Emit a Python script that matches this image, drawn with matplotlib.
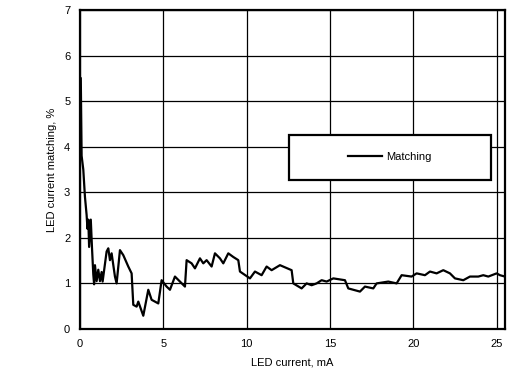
import matplotlib
matplotlib.use("Agg")
import matplotlib.pyplot as plt
from matplotlib.patches import Rectangle

plt.rcParams['font.family'] = ['Liberation Sans', 'DejaVu Sans']

# LED current (mA) and current matching (%)
current = [0.05, 0.1, 0.2, 0.3, 0.4, 0.45, 0.5, 0.55, 0.65, 0.72, 0.8, 0.85,
           0.9, 1.0, 1.1, 1.2, 1.3, 1.36, 1.6, 1.7, 1.8, 1.9, 2.1, 2.2, 2.4,
           2.6, 2.9, 3.1, 3.2, 3.4, 3.5, 3.8, 4.1, 4.3, 4.7, 4.9, 5.2, 5.4,
           5.7, 6.0, 6.3, 6.4, 6.7, 6.9, 7.2, 7.4, 7.6, 7.9, 8.1, 8.4, 8.6,
           8.9, 9.2, 9.5, 9.6, 10.2, 10.5, 10.9, 11.2, 11.5, 12.0, 12.7, 12.8,
           13.3, 13.6, 13.9, 14.2, 14.5, 14.8, 15.2, 15.9, 16.1, 16.8, 17.1,
           17.6, 17.8, 18.5, 19.0, 19.3, 19.9, 20.2, 20.7, 21.0, 21.4, 21.8,
           22.2, 22.5, 23.0, 23.4, 23.9, 24.2, 24.5, 25.0, 25.2, 25.5]
matching = [5.5, 3.8, 3.5, 2.9, 2.5, 2.2, 2.4, 1.8, 2.4, 1.8, 1.2, 0.98,
            1.4, 1.05, 1.3, 1.05, 1.25, 1.04, 1.70, 1.77, 1.51, 1.66, 1.15,
            1.0, 1.73, 1.62, 1.37, 1.22, 0.53, 0.49, 0.6, 0.29, 0.86, 0.64,
            0.56, 1.07, 0.93, 0.86, 1.15, 1.04, 0.93, 1.51, 1.44, 1.33, 1.55,
            1.44, 1.51, 1.37, 1.66, 1.55, 1.44, 1.66, 1.58, 1.51, 1.26, 1.11,
            1.26, 1.18, 1.37, 1.29, 1.40, 1.29, 1.0, 0.89, 1.0, 0.96, 1.0,
            1.07, 1.04, 1.11, 1.07, 0.89, 0.82, 0.93, 0.89, 1.0, 1.04, 1.0,
            1.18, 1.15, 1.22, 1.18, 1.26, 1.22, 1.29, 1.22, 1.11, 1.07, 1.15,
            1.15, 1.18, 1.15, 1.22, 1.18, 1.15]

xticks = [0, 5, 10, 15, 20, 25]
yticks = [0, 1, 2, 3, 4, 5, 6, 7]

fig = plt.figure(figsize=(5.26, 3.87), dpi=100)
ax = fig.add_axes([0.152, 0.150, 0.808, 0.824])

ax.plot(current, matching, color='black', lw=1.6, label='Matching', zorder=2)

ax.set_xlim(0, 25.5)
ax.set_ylim(0, 7)
ax.set_xticks(xticks)
ax.set_yticks(yticks)
ax.grid(True, color='black', lw=0.9)
ax.set_axisbelow(True)
ax.tick_params(length=0, labelsize=8, pad=7)
for s in ax.spines.values():
    s.set_linewidth(1.6)

ax.set_xlabel('LED current, mA', fontsize=8, labelpad=6)
ax.set_ylabel('LED current matching, %', fontsize=8, labelpad=5)

# legend box
ax.add_patch(Rectangle((0.492, 0.467), 0.475, 0.141, transform=ax.transAxes,
                       facecolor='white', edgecolor='black', lw=1.6, zorder=3))
leg = ax.legend(loc='center', bbox_to_anchor=(0.729, 0.538), frameon=False,
                fontsize=8, handlelength=3.1, handletextpad=0.4)
leg.set_zorder(4)

fig.savefig('out.png', dpi=100)
